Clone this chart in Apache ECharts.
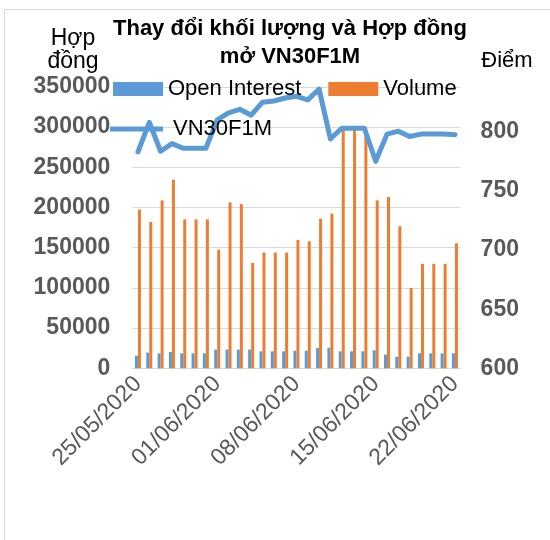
<!DOCTYPE html>
<html>
<head>
<meta charset="utf-8">
<script src="https://cdn.jsdelivr.net/npm/echarts@6/dist/echarts.min.js"></script>
<style>
  html, body { margin: 0; padding: 0; background: #fff; }
  #main { width: 550px; height: 540px; }
</style>
</head>
<body>
<div id="main"></div>
<script>
// du lieu doc tu hinh ---------------------------------------------------
var dates = ['25/05/2020', '26/05/2020', '27/05/2020', '28/05/2020', '29/05/2020', '30/05/2020', '31/05/2020',
    '01/06/2020', '02/06/2020', '03/06/2020', '04/06/2020', '05/06/2020', '06/06/2020', '07/06/2020',
    '08/06/2020', '09/06/2020', '10/06/2020', '11/06/2020', '12/06/2020', '13/06/2020', '14/06/2020',
    '15/06/2020', '16/06/2020', '17/06/2020', '18/06/2020', '19/06/2020', '20/06/2020', '21/06/2020',
    '22/06/2020'];
var openInterest = [15700, 19500, 18600, 20200, 18600, 18600, 18600, 23200, 23200, 23200, 23200, 21100, 21100, 21100,
    21900, 21900, 25200, 25600, 21100, 21100, 21100, 22400, 17000, 14500, 14500, 18600, 18600, 18600, 18600];
var volume = [197300, 181900, 208800, 234500, 185200, 185200, 185200, 147600, 206300, 204200, 131000, 143900, 143900, 143900,
    159600, 157900, 186100, 192300, 300000, 301000, 298000, 208800, 212900, 176600, 100000, 129800, 129800, 129800, 155500];
var vn30 = [783, 808, 783.5, 790, 786, 786, 786, 810, 816, 819, 814, 825, 826, 828.5,
    830, 827, 836, 794, 803, 803, 803, 775, 798, 800.5, 796, 798, 798, 798, 797.5];
var leftTicks = { min: 0, max: 350000, step: 50000 };
var rightTicks = { min: 600, max: 838, step: 50 };

var FONT = 'Liberation Sans, Arial, sans-serif';
var BLUE = '#5B9BD5';
var ORANGE = '#ED7D31';
var GRAY = '#595959';

var myChart = echarts.init(document.getElementById('main'));

var option = {
    animation: false,
    backgroundColor: '#fff',
    textStyle: { fontFamily: FONT },
    title: [
        {
            text: 'Thay đổi khối lượng và Hợp đồng\nmở VN30F1M',
            left: 285,
            top: 10,
            textAlign: 'center',
            textStyle: { fontFamily: FONT, fontSize: 22, fontWeight: 'bold', color: '#000', lineHeight: 28 }
        },
        {
            text: 'Hợp\nđồng',
            left: 68,
            top: 22,
            textAlign: 'center',
            textStyle: { fontFamily: FONT, fontSize: 23, fontWeight: 'normal', color: '#000', lineHeight: 23 }
        },
        {
            text: 'Điểm',
            left: 502,
            top: 45,
            textAlign: 'center',
            textStyle: { fontFamily: FONT, fontSize: 22, fontWeight: 'normal', color: '#000' }
        }
    ],
    legend: [
        {
            data: ['Open Interest', 'Volume'],
            left: 113,
            top: 78,
            padding: 0,
            icon: 'rect',
            itemWidth: 50,
            itemHeight: 14,
            itemGap: 27,
            textStyle: { fontFamily: FONT, fontSize: 22, color: '#000' }
        },
        {
            data: ['VN30F1M'],
            left: 110,
            top: 118,
            padding: 0,
            icon: 'rect',
            itemWidth: 53,
            itemHeight: 5,
            textStyle: { fontFamily: FONT, fontSize: 22, color: '#000', padding: [0, 0, 0, 5] }
        }
    ],
    grid: {
        left: 132.3,
        right: 89.4,
        top: 86.8,
        bottom: 171.7,
        containLabel: false,
        outerBoundsMode: 'none'
    },
    xAxis: {
        type: 'category',
        data: dates,
        boundaryGap: true,
        axisLine: { lineStyle: { color: '#D9D9D9', width: 1 } },
        axisTick: { interval: 6, length: 5, lineStyle: { color: '#D9D9D9' } },
        axisLabel: {
            interval: 6,
            rotate: 45,
            margin: 12,
            fontFamily: FONT,
            fontSize: 23,
            color: GRAY
        },
        splitLine: { show: false }
    },
    yAxis: [
        {
            type: 'value',
            min: leftTicks.min,
            max: leftTicks.max,
            interval: leftTicks.step,
            axisLine: { show: false },
            axisTick: { show: false },
            axisLabel: {
                margin: 22, fontFamily: FONT, fontSize: 23, fontWeight: 'bold', color: GRAY,
                formatter: function (v) { return String(v); }
            },
            splitLine: { lineStyle: { color: '#D9D9D9', width: 1 } }
        },
        {
            type: 'value',
            position: 'right',
            min: rightTicks.min,
            max: rightTicks.max,
            interval: rightTicks.step,
            axisLine: { show: false },
            axisTick: { show: false },
            axisLabel: {
                margin: 20, showMaxLabel: false, fontFamily: FONT, fontSize: 23, fontWeight: 'bold', color: GRAY,
                formatter: function (v) { return String(v); }
            },
            splitLine: { show: false }
        }
    ],
    series: [
        {
            name: 'Open Interest',
            type: 'bar',
            yAxisIndex: 0,
            data: openInterest,
            barWidth: 3,
            barGap: '0%',
            itemStyle: { color: BLUE }
        },
        {
            name: 'Volume',
            type: 'bar',
            yAxisIndex: 0,
            data: volume,
            barWidth: 3,
            barGap: '0%',
            itemStyle: { color: ORANGE }
        },
        {
            name: 'VN30F1M',
            type: 'line',
            yAxisIndex: 1,
            data: vn30,
            symbol: 'none',
            z: 3,
            lineStyle: { color: BLUE, width: 5, join: 'round', cap: 'round' },
            itemStyle: { color: BLUE }
        }
    ],
    graphic: [
        {
            type: 'rect',
            silent: true,
            z: -10,
            shape: { x: 4.5, y: 9.5, width: 560, height: 560 },
            style: { fill: 'none', stroke: '#D9D9D9', lineWidth: 1 }
        }
    ]
};

option && myChart.setOption(option);
window.addEventListener('resize', myChart.resize);
</script>
</body>
</html>
